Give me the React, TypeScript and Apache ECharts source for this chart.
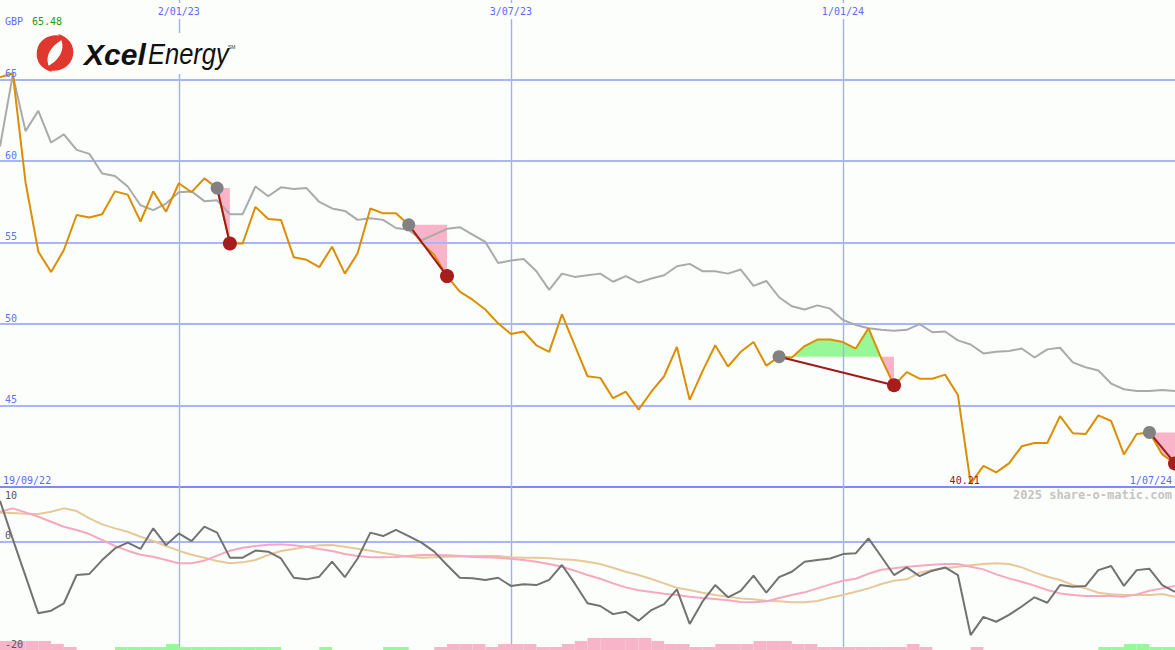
import React, { useEffect, useRef } from 'react';
import * as echarts from 'echarts';

// ---------- data ----------
const tickIndex = [14, 40, 66];
const tickLabels = ['2/01/23', '3/07/23', '1/01/24'];
const firstLabel = '19/09/22';
const lastLabel = '1/07/24';
const priceTicks = [45, 50, 55, 60, 65];
const priceMin = 40;
const priceMax = 69.9;
const lowerTicks = [10, 0, -20];
const headerCurrency = 'GBP';
const headerValue = '65.48';
const copyright = '2025 share-o-matic.com';

// weekly close, 26/09/22 .. 1/07/24
const price = [
  65.15, 65.4, 58.7, 54.45, 53.2, 54.55, 56.7, 56.55, 56.75, 58.15,
  57.95, 56.3, 58.15, 56.9, 58.65, 58.1, 58.95, 58.35, 54.95, 54.95,
  57.2, 56.45, 56.4, 54.1, 53.95, 53.5, 54.75, 53.1, 54.35, 57.1,
  56.8, 56.8, 56.1, 55.0, 54.25, 52.95, 52.0, 51.5, 50.9, 50.05,
  49.4, 49.55, 48.7, 48.3, 50.6, 48.7, 46.8, 46.7, 45.45, 45.85,
  44.75, 45.85, 46.8, 48.6, 45.35, 47.1, 48.7, 47.4, 48.3, 48.9,
  47.45, 48.0, 47.95, 48.65, 49.05, 49.05, 48.9, 48.5, 49.75, 47.9,
  46.25, 47.05, 46.65, 46.65, 46.9, 45.65, 40.21, 41.3, 40.9, 41.45,
  42.5, 42.7, 42.7, 44.35, 43.3, 43.25, 44.4, 44.05, 42.0, 43.25,
  43.35, 42.0, 41.45,
];

// comparison line (grey)
const compare = [
  60.9, 65.3, 61.85, 63.1, 61.15, 61.65, 60.7, 60.45, 59.25, 59.1,
  58.45, 57.3, 57.0, 57.4, 58.1, 58.15, 57.55, 57.6, 56.75, 56.75,
  58.45, 57.85, 58.4, 58.3, 58.35, 57.5, 57.1, 56.95, 56.4, 56.5,
  56.4, 55.9, 55.8, 55.15, 55.5, 55.85, 55.95, 55.5, 55.05, 53.75,
  53.9, 54.0, 53.25, 52.1, 53.1, 52.9, 53.0, 53.1, 52.6, 52.95,
  52.55, 52.8, 53.0, 53.55, 53.7, 53.25, 53.25, 53.1, 53.35, 52.35,
  52.65, 51.65, 51.1, 50.9, 51.15, 50.95, 50.25, 49.95, 49.75, 49.65,
  49.6, 49.65, 50.0, 49.5, 49.55, 49.0, 48.75, 48.2, 48.3, 48.35,
  48.5, 47.95, 48.45, 48.55, 47.65, 47.35, 47.15, 46.35, 46.0, 45.9,
  45.9, 45.95, 45.9,
];

// lower panel: oscillator (dark grey)
const osc = [
  7.47, 0.4, -6.4, -13.25, -12.77, -11.4, -6.2, -6.0, -3.45, -1.3,
  -0.25, -1.4, 2.4, -0.7, 1.45, 0.05, 2.7, 1.6, -3.0, -3.0,
  -1.7, -1.9, -3.15, -6.7, -7.0, -6.5, -3.75, -6.6, -3.15, 1.6,
  0.97, 2.1, 0.97, -0.25, -1.9, -4.35, -6.7, -6.8, -7.1, -6.7,
  -8.2, -7.9, -8.05, -7.1, -4.35, -7.75, -11.4, -11.9, -13.4, -12.95,
  -14.6, -12.65, -11.55, -8.85, -15.2, -11.1, -8.05, -10.3, -9.1, -6.3,
  -9.45, -6.6, -5.6, -3.75, -3.45, -3.15, -2.35, -2.2, 0.55, -2.8,
  -6.2, -4.8, -6.4, -5.4, -4.8, -6.2, -17.25, -13.9, -14.8, -13.55,
  -12.0, -10.3, -11.3, -8.05, -8.35, -8.2, -5.3, -4.55, -8.2, -5.3,
  -5.05, -8.05, -9.3,
];

// lower panel: pink average
const oscPink = [
  5.45, 6.07, 5.33, 4.53, 3.61, 2.69, 2.08, 1.34, 0.24, -0.86,
  -1.72, -2.46, -2.83, -3.44, -4.05, -4.05, -3.56, -2.64, -1.72, -1.17,
  -0.86, -0.62, -0.56, -0.74, -0.99, -1.42, -1.78, -2.34, -2.7, -2.95,
  -2.95, -2.89, -2.7, -2.52, -2.52, -2.58, -2.7, -2.89, -2.95, -3.01,
  -3.2, -3.44, -3.75, -4.18, -4.67, -5.4, -6.2, -6.88, -7.74, -8.47,
  -9.02, -9.33, -9.64, -9.88, -10.19, -10.43, -10.62, -10.86, -11.17, -11.23,
  -11.05, -10.43, -9.88, -9.39, -8.66, -7.92, -7.24, -6.88, -5.96, -5.22,
  -4.97, -4.67, -4.48, -4.3, -4.18, -4.18, -4.67, -5.16, -6.08, -6.82,
  -7.43, -8.16, -8.96, -9.58, -9.88, -10.07, -10.07, -10.07, -10.19, -9.76,
  -9.09, -8.66, -8.23,
];

// lower panel: tan average
const oscTan = [
  5.27, 5.21, 5.09, 5.03, 5.45, 6.07, 5.58, 4.23, 3.12, 2.39,
  1.77, 0.85, 0.06, -0.86, -1.72, -2.46, -3.01, -3.62, -4.05, -3.87,
  -3.44, -2.52, -1.78, -1.42, -0.99, -0.74, -0.68, -0.99, -1.35, -1.72,
  -2.15, -2.52, -2.83, -3.01, -2.95, -2.83, -2.77, -2.7, -2.7, -2.7,
  -2.95, -3.01, -3.01, -3.13, -3.32, -3.44, -3.75, -4.18, -4.85, -5.59,
  -6.2, -6.94, -7.74, -8.53, -8.96, -9.45, -9.88, -10.19, -10.5, -10.68,
  -10.93, -11.05, -11.23, -11.23, -10.99, -10.37, -9.88, -9.27, -8.66, -7.86,
  -7.24, -7.0, -5.77, -5.28, -4.97, -4.67, -4.42, -4.18, -4.05, -4.18,
  -4.79, -5.71, -6.51, -7.12, -8.04, -8.66, -9.45, -9.76, -9.88, -9.88,
  -9.88, -9.7, -10.19,
];

// lower panel histogram (signed level per week interval)
const hist = [
  -3, -3, -3, -3, -2, -1, 0, 0, 0, 1, 1, 1, 1, 2, 1, 1, 1, 1, 1, 1,
  1, 1, 0, 0, 0, 1, 0, 0, 0, 0, 1, 1, 0, 0, -1, -2, -2, -2, -1, -2,
  -2, -2, -1, -1, -2, -3, -4, -4, -4, -4, -4, -3, -2, -2, -1, -1, -2, -2, -2, -3,
  -3, -3, -2, -2, -1, -1, -1, -1, -1, -1, -1, -2, -1, 0, 0, 0, -1, 0, 0, 0,
  0, 0, 0, 0, 0, 0, 1, 1, 2, 2, 1, 1,
];
const histAxisMax = 54;

// signals (start at grey dot, end at red dot)
const signalStart = [17, 32, 61, 90];
const signalEnd = [18, 35, 70, 92];

// ---------- styles ----------
const BG = '#fcfefc';
const GRID = '#a9b5f4';
const VGRID = '#a2b0f4';
const BLUE = '#5a68ff';
const PINK = '#f8b4c8';
const GREEN = '#98f898';
const MONO = '"DejaVu Sans Mono", monospace';

const SWIRL =
  'M31 4 C21 -2 5 2 2 17 C0 29 7 37 17 40 C12 33 11 25 15 18 C19 11 25 7 31 4 Z ' +
  'M9 36 C19 42 35 38 38 23 C40 11 33 3 23 0 C28 7 29 15 25 22 C21 29 15 33 9 36 Z';
echarts.graphic.registerShape('xcelSwirl', echarts.graphic.extendPath(SWIRL, {}));

type Poly = { pts: number[][]; up: boolean };

function buildFills(): Poly[] {
  const polys: Poly[] = [];
  signalStart.forEach((s, n) => {
    const e = signalEnd[n];
    const L = price[s];
    const path: number[][] = [];
    for (let k = s; k <= e; k++) {
      path.push([k, price[k]]);
      if (k < e) {
        const d0 = price[k] - L;
        const d1 = price[k + 1] - L;
        if (d0 * d1 < 0) path.push([k + d0 / (d0 - d1), L]);
      }
    }
    path.push([e, L]);
    let cur: number[][] = [path[0]];
    for (let j = 1; j < path.length; j++) {
      cur.push(path[j]);
      if (Math.abs(path[j][1] - L) < 1e-9) {
        if (cur.length > 2) {
          const sum = cur.reduce((a, p) => a + (p[1] - L), 0);
          polys.push({ pts: cur, up: sum > 0 });
        }
        cur = [path[j]];
      }
    }
  });
  return polys;
}

function buildOption() {
  const fills = buildFills();
  const pairs = (arr: number[]) => arr.map((v, i) => [i, v]);
  const vLines = tickIndex.map((v) => ({ xAxis: v }));
  const hLines = priceTicks.map((v) => ({ yAxis: v, lineStyle: { color: GRID, width: 2, type: 'solid' } }));
  const series: any[] = [
    {
      type: 'custom',
      xAxisIndex: 0,
      yAxisIndex: 0,
      z: 1,
      silent: true,
      data: fills.map((p) => p.pts[0]),
      renderItem: (params: any, api: any) => {
        const p = fills[params.dataIndex];
        return {
          type: 'polygon',
          shape: { points: p.pts.map((q) => api.coord(q)) },
          style: { fill: p.up ? GREEN : PINK },
        };
      },
    },
    {
      type: 'line',
      xAxisIndex: 0,
      yAxisIndex: 0,
      z: 3,
      silent: true,
      symbol: 'none',
      data: pairs(compare),
      lineStyle: { color: '#aaaaaa', width: 2 },
      markLine: {
        silent: true,
        z: 2,
        symbol: 'none',
        label: { show: false },
        lineStyle: { color: VGRID, width: 1.4, type: 'solid', opacity: 1 },
        data: [...vLines, ...hLines],
      },
    },
    {
      type: 'line',
      xAxisIndex: 0,
      yAxisIndex: 0,
      z: 4,
      silent: true,
      symbol: 'none',
      data: pairs(price),
      lineStyle: { color: '#db8e00', width: 2 },
    },
    ...signalStart.map((s, n) => ({
      type: 'line',
      xAxisIndex: 0,
      yAxisIndex: 0,
      z: 5,
      silent: true,
      symbol: 'none',
      data: [
        [s, price[s]],
        [signalEnd[n], price[signalEnd[n]]],
      ],
      lineStyle: { color: '#a01818', width: 2 },
    })),
    {
      type: 'scatter',
      xAxisIndex: 0,
      yAxisIndex: 0,
      z: 6,
      silent: true,
      symbolSize: 13,
      data: signalStart.map((i) => [i, price[i]]),
      itemStyle: { color: '#828282', opacity: 1 },
    },
    {
      type: 'scatter',
      xAxisIndex: 0,
      yAxisIndex: 0,
      z: 7,
      silent: true,
      symbolSize: 14,
      data: signalEnd.map((i) => [i, price[i]]),
      itemStyle: { color: '#a51d1d', opacity: 1 },
    },
    // lower panel
    {
      type: 'custom',
      xAxisIndex: 1,
      yAxisIndex: 2,
      z: 2,
      silent: true,
      data: hist.map((v, k) => [k, Math.abs(v)]),
      renderItem: (params: any, api: any) => {
        const k = params.dataIndex;
        const v = hist[k];
        if (!v) return { type: 'group', children: [] };
        const a = api.coord([k, 0]);
        const b = api.coord([k + 1, Math.abs(v)]);
        return {
          type: 'rect',
          shape: { x: a[0], y: b[1], width: b[0] - a[0], height: a[1] - b[1] },
          style: { fill: v > 0 ? GREEN : PINK },
        };
      },
    },
    {
      type: 'line',
      xAxisIndex: 1,
      yAxisIndex: 1,
      z: 3,
      silent: true,
      symbol: 'none',
      data: pairs(oscTan),
      lineStyle: { color: '#e6c998', width: 2 },
      markLine: {
        silent: true,
        z: 2,
        symbol: 'none',
        label: { show: false },
        lineStyle: { color: VGRID, width: 1.4, type: 'solid', opacity: 1 },
        data: [...vLines, { yAxis: 0, lineStyle: { color: GRID, width: 2, type: 'solid' } }],
      },
    },
    {
      type: 'line',
      xAxisIndex: 1,
      yAxisIndex: 1,
      z: 4,
      silent: true,
      symbol: 'none',
      data: pairs(oscPink),
      lineStyle: { color: '#f6a8c2', width: 2 },
    },
    {
      type: 'line',
      xAxisIndex: 1,
      yAxisIndex: 1,
      z: 5,
      silent: true,
      symbol: 'none',
      data: pairs(osc),
      lineStyle: { color: '#727272', width: 2 },
    },
  ];

  return {
    animation: false,
    backgroundColor: BG,
    grid: [
      { left: 0, right: 0, top: 0, height: 487 },
      { left: 0, right: 0, top: 487, height: 163 },
    ],
    xAxis: [
      {
        type: 'value',
        gridIndex: 0,
        min: 0,
        max: price.length - 1,
        axisLine: { show: true, onZero: false, lineStyle: { color: '#7d8cf2', width: 2 } },
        axisTick: { show: false },
        axisLabel: { show: false },
        splitLine: { show: false },
      },
      { type: 'value', gridIndex: 1, min: 0, max: price.length - 1, show: false, splitLine: { show: false } },
    ],
    yAxis: [
      {
        type: 'value',
        gridIndex: 0,
        min: priceMin,
        max: priceMax,
        axisLine: { show: false },
        axisTick: { show: false },
        axisLabel: { show: false },
        splitLine: { show: false },
      },
      { type: 'value', gridIndex: 1, min: -20, max: 10, show: false, splitLine: { show: false } },
      { type: 'value', gridIndex: 1, min: 0, max: histAxisMax, show: false, splitLine: { show: false } },
    ],
    series,
  };
}

function txt(text: string, x: number, y: number, o: any = {}) {
  return {
    type: 'text',
    x,
    y,
    z: 20,
    silent: true,
    style: {
      text,
      fill: o.fill || BLUE,
      font: o.font || `10px ${MONO}`,
      align: o.align || 'left',
      verticalAlign: o.va || 'top',
      backgroundColor: o.bg,
      padding: o.padding,
    },
  };
}

function buildGraphics(chart: any) {
  const xp = (i: number) => chart.convertToPixel({ xAxisIndex: 0 }, i) as number;
  const yp = (v: number) => chart.convertToPixel({ yAxisIndex: 0 }, v) as number;
  const yl = (v: number) => chart.convertToPixel({ yAxisIndex: 1 }, v) as number;
  let minIdx = 0;
  price.forEach((v, i) => {
    if (v < price[minIdx]) minIdx = i;
  });
  const bottom = yp(priceMin);
  const els: any[] = [];
  els.push(txt(headerCurrency, 5, 16, { fill: BLUE }));
  els.push(txt(headerValue, 32, 16, { fill: '#12a012' }));
  tickIndex.forEach((i, n) =>
    els.push(txt(tickLabels[n], xp(i), 3, { align: 'center', bg: BG, padding: [3, 2, 3, 2] }))
  );
  priceTicks.forEach((v) => els.push(txt(String(v), 5, yp(v) - 1, { va: 'bottom', fill: '#6272ff' })));
  els.push(txt(firstLabel, 3, bottom - 2, { va: 'bottom' }));
  els.push(txt(lastLabel, 1172, bottom - 2, { va: 'bottom', align: 'right' }));
  els.push(
    txt(price[minIdx].toFixed(2), xp(minIdx) - 6, bottom - 2, { va: 'bottom', align: 'center', fill: '#a01010' })
  );
  els.push(txt(copyright, 1172, bottom + 2, { align: 'right', fill: '#c4c4c4', font: `bold 12px ${MONO}` }));
  els.push(txt(String(lowerTicks[0]), 5, yl(lowerTicks[0]) + 3, { fill: '#555555' }));
  els.push(txt(String(lowerTicks[1]), 5, yl(lowerTicks[1]) - 1, { fill: '#555555', va: 'bottom' }));
  els.push(txt(String(lowerTicks[2]), 5, yl(lowerTicks[2]) - 1, { fill: '#555555', va: 'bottom' }));

  // logo
  els.push({ type: 'rect', z: 15, silent: true, shape: { x: 30, y: 33, width: 210, height: 41 }, style: { fill: BG } });
  els.push({ type: 'xcelSwirl', x: 35, y: 34, scaleX: 1, scaleY: 0.95, z: 16, silent: true, style: { fill: '#e0372f' } });
  els.push({
    type: 'text',
    x: 84,
    y: 54,
    z: 16,
    silent: true,
    style: { text: 'Xcel', fill: '#111111', font: 'italic bold 30px "Liberation Sans", Arial, sans-serif', verticalAlign: 'middle' },
  });
  els.push({
    type: 'text',
    x: 148,
    y: 54,
    z: 16,
    scaleX: 0.85,
    silent: true,
    style: { text: 'Energy', fill: '#111111', font: 'italic 30px "Liberation Sans", Arial, sans-serif', verticalAlign: 'middle' },
  });
  els.push({
    type: 'text',
    x: 228,
    y: 47,
    z: 16,
    silent: true,
    style: { text: 'SM', fill: '#333333', font: '5px "Liberation Sans", Arial, sans-serif', verticalAlign: 'middle' },
  });
  return els;
}

export default function App() {
  const ref = useRef<HTMLDivElement>(null);
  useEffect(() => {
    const chart = echarts.init(ref.current as HTMLDivElement, null, { renderer: 'svg' });
    chart.setOption(buildOption() as any);
    chart.setOption({ graphic: buildGraphics(chart) } as any);
    return () => chart.dispose();
  }, []);
  return <div ref={ref} style={{ position: 'absolute', left: 0, top: 0, width: 1175, height: 650 }} />;
}
